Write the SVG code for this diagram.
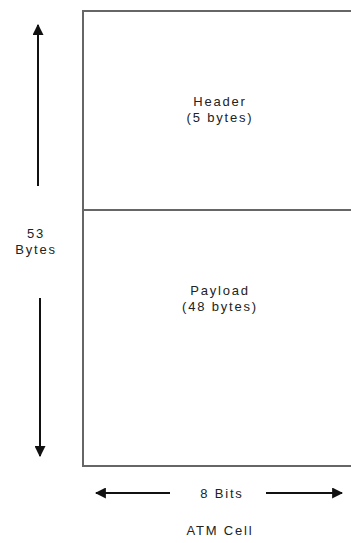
<svg xmlns="http://www.w3.org/2000/svg" width="351" height="543" viewBox="0 0 351 543">
<style>
.t{font-family:"Liberation Sans",Arial,sans-serif;font-size:13px;letter-spacing:1.8px;fill:#222;text-anchor:middle}
.box{fill:#fff;stroke:#666;stroke-width:2}
.ar{stroke:#111;stroke-width:2;fill:none}
</style>
<defs>
<marker id="ah" viewBox="0 0 10 10" refX="9" refY="5" markerWidth="5.5" markerHeight="5.5" orient="auto" markerUnits="strokeWidth">
<path d="M0,0 L10,5 L0,10 z" fill="#111"/>
</marker>
</defs>
<rect width="351" height="543" fill="#fff"/>
<g id="header">
<rect class="box" x="83" y="11" width="280" height="199"/>
<text class="t" x="220" y="106">Header</text>
<text class="t" x="220" y="122">(5 bytes)</text>
</g>
<g id="payload">
<rect class="box" x="83" y="210" width="280" height="256"/>
<text class="t" x="220" y="295">Payload</text>
<text class="t" x="220" y="311">(48 bytes)</text>
</g>
<g id="connectors">
<line class="ar" x1="38" y1="186" x2="38" y2="25" marker-end="url(#ah)"/>
<line class="ar" x1="40" y1="298" x2="40" y2="456" marker-end="url(#ah)"/>
<line class="ar" x1="170" y1="493" x2="96" y2="493" marker-end="url(#ah)"/>
<line class="ar" x1="266" y1="493" x2="342" y2="493" marker-end="url(#ah)"/>
</g>
<g id="labels">
<text class="t" x="36" y="238">53</text>
<text class="t" x="36" y="254">Bytes</text>
<text class="t" x="222" y="498">8 Bits</text>
<text class="t" x="220" y="535">ATM Cell</text>
</g>
</svg>
